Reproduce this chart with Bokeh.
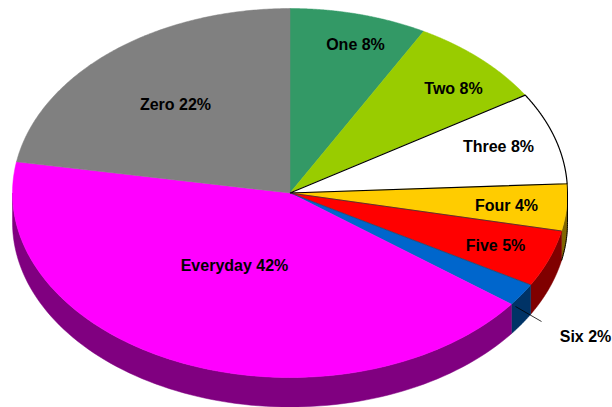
import numpy as np
from bokeh.plotting import figure
from bokeh.models import Range1d, ColumnDataSource
from bokeh.core.properties import value
from bokeh.embed import file_html
from bokeh.resources import INLINE

categories = ["One", "Two", "Three", "Four", "Five", "Six", "Everyday", "Zero"]
shares = [8.0, 8.1, 8.1, 4.1, 5.0, 2.0, 42.4, 22.3]
labels = ["One 8%", "Two 8%", "Three 8%", "Four 4%", "Five 5%", "Six 2%", "Everyday 42%", "Zero 22%"]
top_colors = ["#339966", "#99CC00", "#FFFFFF", "#FFCC00", "#FF0000", "#0066CC", "#FF00FF", "#808080"]
wall_colors = ["#1A4D33", "#4D6600", "#808080", "#806600", "#800000", "#003366", "#800080", "#404040"]
label_x = [355, 453, 498, 506, 495, 585, 234, 175]
label_y = [44, 88, 146, 205, 245, 336, 265, 104]

CX, CY, RX, RY, DEPTH = 289.5, 192.5, 277.5, 184.5, 29.5

def pt(t_deg, drop=0.0):
    t = np.radians(t_deg)
    return CX + RX * np.sin(t), CY - RY * np.cos(t) + drop

edges = np.concatenate([[0], np.cumsum(shares)]) * 3.6

p = figure(width=612, height=407, x_range=Range1d(0, 612), y_range=Range1d(407, 0),
           output_backend="svg", toolbar_location=None, min_border=0)
p.axis.visible = False
p.grid.visible = False
p.outline_line_color = None

# side walls: only the front half (90..270 degrees) is visible
wx, wy, wc = [], [], []
for a, b, c in zip(edges[:-1], edges[1:], wall_colors):
    lo, hi = max(a, 90), min(b, 270)
    if hi <= lo:
        continue
    ts = np.linspace(lo, hi, 90)
    x0, y0 = pt(ts)
    x1, y1 = pt(ts[::-1], DEPTH)
    wx.append(np.concatenate([x0, x1]))
    wy.append(np.concatenate([y0, y1]))
    wc.append(c)
p.patches(wx, wy, fill_color=wc, line_color=wc, line_width=0.5)

# top faces
tx, ty = [], []
for a, b in zip(edges[:-1], edges[1:]):
    ts = np.linspace(a, b, 150)
    x, y = pt(ts)
    tx.append(np.concatenate([[CX], x]))
    ty.append(np.concatenate([[CY], y]))
p.patches(tx, ty, fill_color=top_colors, line_color=top_colors, line_width=0.5)

# outline of the white slice and of its neighbours' shared edges
i3 = categories.index("Three")
p.line(list(tx[i3]) + [CX], list(ty[i3]) + [CY], line_color="black", line_width=1.2)
ex, ey = pt(edges[4])
p.line([CX, ex], [CY, ey], line_color="#333333", line_width=0.8)
ex, ey = pt(edges[5])
p.line([CX, ex], [CY, ey], line_color="#333333", line_width=0.5)

# dark silhouette beside the gold wall
ts = np.linspace(edges[3], 90, 10)
sx, sy = pt(ts)
ts2 = np.linspace(90, edges[4], 20)
sx2, sy2 = pt(ts2, DEPTH)
p.line(np.concatenate([sx, sx2]), np.concatenate([sy, sy2]), line_color="black", line_width=1.0)

# leader for the small slice
p.line([515, 541], [306, 321], line_color="black", line_width=0.8)

src = ColumnDataSource(dict(x=label_x, y=label_y, t=labels))
p.text("x", "y", text="t", source=src, text_align="center", text_baseline="middle",
       text_font=value("Liberation Sans"), text_font_style="bold", text_font_size="16px",
       text_color="black")

open("out.html", "w").write(file_html(p, INLINE))
